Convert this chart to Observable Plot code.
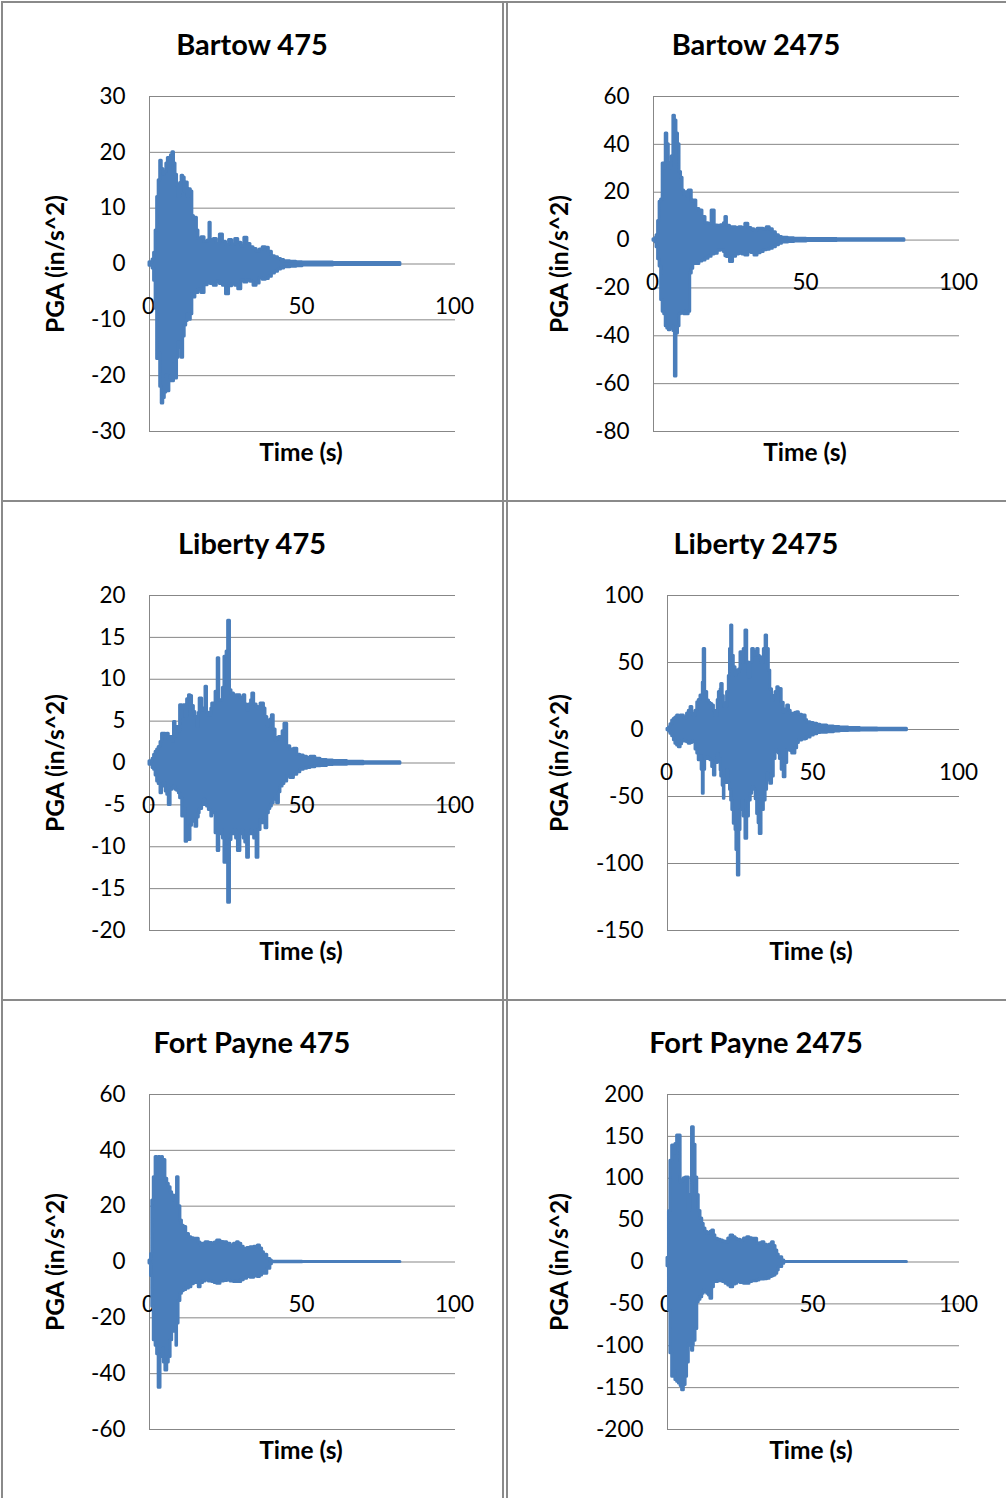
<!DOCTYPE html>
<html>
<head>
<meta charset="utf-8">
<script src="https://cdn.jsdelivr.net/npm/d3@7"></script>
<script src="https://cdn.jsdelivr.net/npm/@observablehq/plot@0.6"></script>
<style>
  html, body { margin: 0; padding: 0; background: #fff; }
  #root { position: relative; width: 1006px; height: 1498px; overflow: hidden; background: #fff; font-family: Lato, "Open Sans", sans-serif; color: #000; }
  .lbl { position: absolute; transform: translate(-50%, -50%); white-space: nowrap; line-height: 1; }
  .title { font-weight: bold; font-size: 29px; }
  .axl { font-weight: bold; font-size: 24.5px; }
  .ylab { transform: translate(-50%, -50%) rotate(-90deg); }
  .ln { position: absolute; background: #8a8a8a; }
  .panel { position: absolute; }
</style>
</head>
<body>
<div id="root"></div>
<script>
// ---------- Data ----------
const xTicks = [0, 50, 100];

// Bartow 475 : time (s), upper and lower envelope of PGA trace (in/s^2)
const bartow475T  = [0, 1, 1.5, 2, 2.5, 3, 3.5, 4, 4.5, 5, 5.5, 6, 6.5, 7, 7.5, 8, 8.5, 9, 9.5, 10, 10.5, 11, 11.5, 12, 12.5, 13, 13.5, 14, 14.5, 15, 15.5, 16, 17, 18, 19, 19.6, 20, 21, 22, 23, 24, 25, 26, 27, 28, 29, 30, 31, 32, 33, 34, 35, 36, 37, 38, 39, 40, 41, 42, 43, 44, 46, 48, 50, 60, 70, 82];
const bartow475Hi = [0.3, 0.8, 2, 6, 12, 15, 18.5, 17, 16, 16.5, 18, 19, 17, 19.5, 20, 18, 16, 14, 12, 14.5, 15.8, 15.5, 13, 14.6, 12, 13.4, 13, 8.6, 8, 8.3, 6, 4.5, 4.8, 4, 4.2, 7.4, 4.3, 4.5, 3.6, 5.3, 4, 3.4, 4.3, 3.5, 4.5, 3.8, 3.2, 4.7, 3.6, 3, 2.7, 2.2, 2.6, 3, 2.9, 2.2, 1.4, 1.2, 0.9, 0.7, 0.5, 0.4, 0.3, 0.25, 0.2, 0.2, 0.2];
const bartow475Lo = [-0.3, -0.8, -3, -8, -17, -16, -22, -25, -24, -23, -20, -22.8, -21, -20, -21, -18, -20.5, -16.8, -14, -15, -16.8, -13, -11, -10.2, -9, -10, -9, -5.4, -6, -5, -5.2, -4.6, -5.2, -3.8, -3.4, -3.5, -3.6, -3.9, -3.2, -3.6, -3.9, -5.4, -4, -3.6, -3.9, -4.5, -3, -3.3, -3, -3.2, -3.9, -3.5, -2.5, -2.8, -2.7, -2.3, -1.7, -1.4, -1, -0.8, -0.6, -0.5, -0.4, -0.25, -0.2, -0.2, -0.2];
const bartow475YTicks = [-30, -20, -10, 0, 10, 20, 30];

// Bartow 2475
const bartow2475T  = [0, 0.7, 1, 1.5, 2, 2.5, 3, 3.5, 4, 4.5, 5, 5.5, 6, 6.5, 7, 7.5, 8, 8.5, 9, 9.5, 10, 10.5, 11, 11.5, 12, 12.5, 13, 14, 15, 16, 17, 18, 19, 20, 21, 22, 23, 23.5, 24, 25, 26, 27, 28, 29, 30, 31, 32, 33, 34, 35, 36, 37, 38, 39, 40, 41, 42, 44, 46, 50, 60, 70, 82];
const bartow2475Hi = [0.3, 1, 2, 8, 16, 17, 32, 30, 44.5, 40, 32, 30, 35, 52, 50, 44.5, 40, 28.4, 26, 20.7, 19, 20, 18, 20.7, 20.7, 16, 16.5, 13, 12.4, 9.6, 7, 6.8, 12.4, 6.1, 6, 6.2, 7, 9.6, 6, 5.4, 5.4, 5, 5.4, 5, 6.8, 5, 4.5, 4, 4.7, 4.7, 4.5, 5.4, 4.5, 3.3, 2, 1.3, 1, 0.8, 0.6, 0.4, 0.3, 0.3, 0.3];
const bartow2475Lo = [-0.3, -1, -3, -8, -11, -25, -30, -31, -36, -37, -37.7, -37, -36, -38, -57, -39, -36, -31, -30.7, -30.7, -31, -30, -31, -30, -14, -12, -10, -10, -9, -8.5, -7.8, -7, -6, -5.7, -4.5, -4.3, -5, -6.8, -7.1, -9.2, -7, -6, -5.7, -6, -6.4, -5, -5.4, -6.4, -5.5, -5, -4.3, -4, -3.6, -3, -2.2, -1.5, -1, -0.8, -0.6, -0.4, -0.3, -0.3, -0.3];
const bartow2475YTicks = [-80, -60, -40, -20, 0, 20, 40, 60];

// Liberty 475
const liberty475T  = [0, 1, 1.5, 2, 2.5, 3, 3.6, 4.1, 4.7, 5.3, 5.8, 6.3, 6.9, 7.5, 8, 8.5, 9, 9.6, 10, 10.7, 11.2, 11.8, 12.3, 12.9, 13.4, 13.9, 14.5, 15, 15.6, 16.1, 16.4, 17.2, 17.8, 18.3, 18.8, 19.4, 20.2, 20.5, 21.6, 22.3, 22.8, 23.4, 24, 24.5, 25.2, 25.7, 26.3, 26.8, 27.6, 28.3, 28.9, 29.7, 30.3, 30.8, 31.3, 31.9, 32.5, 33.2, 33.6, 34.2, 35, 35.6, 36.3, 37, 37.4, 37.9, 38.5, 39, 39.5, 40, 40.6, 41.2, 41.7, 42.3, 42.8, 43.5, 44.1, 45, 46, 47.2, 48.3, 49.3, 50.4, 51.5, 52.6, 54.2, 55.9, 58, 60, 64.6, 70, 82];
const liberty475Hi = [0.2, 0.5, 1, 1.35, 1.6, 1.9, 2.5, 3.5, 3.5, 3.4, 3.5, 2.8, 3.1, 2.6, 4.9, 3.2, 4.3, 3.8, 6.9, 6.5, 6.9, 5.5, 7.6, 8.1, 8, 6.8, 6.1, 5.5, 4.3, 6, 7.7, 6.3, 6.5, 9.1, 6, 5.7, 6.5, 7.1, 8.5, 12.5, 7.5, 7.5, 9, 12.7, 13.3, 17, 8.7, 8.3, 8, 8.1, 8.1, 7.8, 7.5, 8.1, 7, 6.3, 7, 7.5, 8.3, 7, 6.7, 6.5, 7.1, 7.1, 6.5, 5.5, 4.3, 5, 5.2, 5.7, 4, 2.7, 3, 3.1, 3, 3.8, 4.7, 2, 1.6, 1.7, 1, 0.9, 0.75, 0.6, 0.75, 0.5, 0.35, 0.3, 0.25, 0.15, 0.1, 0.1];
const liberty475Lo = [-0.2, -0.6, -0.8, -1.5, -2.2, -2.5, -3.6, -2.8, -2.4, -3.4, -3.8, -5, -3.2, -3, -2.8, -3.2, -3.3, -3.6, -4.2, -6.4, -5.5, -9.4, -8, -9.2, -7.5, -6.8, -7, -7.6, -6.5, -6, -5.5, -5, -4.4, -5, -5.2, -5.6, -6.4, -6, -8.4, -10.5, -8.5, -8, -9, -11.9, -10, -16.7, -9.2, -8.5, -8, -9, -10.5, -8.5, -8, -9, -9.5, -11.3, -8.5, -8, -8.5, -9, -11.3, -8, -6.8, -7.2, -7, -7.8, -6, -5.5, -5.2, -4.8, -4.4, -4, -4.8, -3.5, -2.8, -2.5, -2.2, -1.6, -1.8, -1.4, -1.1, -0.8, -0.7, -0.6, -0.5, -0.4, -0.35, -0.25, -0.2, -0.15, -0.1, -0.1];
const liberty475YTicks = [-20, -15, -10, -5, 0, 5, 10, 15, 20];

// Liberty 2475
const liberty2475T  = [0, 0.5, 1, 1.6, 2.2, 2.7, 3.3, 3.9, 4.5, 5, 5.6, 6.2, 6.7, 7.3, 7.9, 8.5, 9, 9.6, 10.2, 10.7, 11.3, 11.7, 12.1, 12.4, 12.9, 13.6, 14.2, 14.7, 15.3, 15.9, 16.4, 17.2, 17.6, 18.2, 18.4, 18.9, 19.3, 19.5, 20.4, 21, 21.4, 21.8, 22.2, 22.7, 23.3, 23.6, 24.1, 24.6, 25, 25.6, 26.1, 26.7, 27.3, 27.9, 28.5, 29, 29.6, 30.2, 30.7, 31.2, 31.6, 32.2, 33, 33.6, 34.1, 34.7, 35.2, 35.8, 36.4, 37, 37.6, 38.1, 38.5, 39.1, 39.8, 40.4, 41, 41.6, 42.2, 42.7, 43.3, 43.8, 44.4, 45, 46.1, 47.3, 47.8, 49, 50.1, 51.3, 52.4, 54.7, 57, 59, 62, 66, 72, 82];
const liberty2475Hi = [0.5, 1.7, 4, 6.7, 8, 9, 10.4, 10, 10.4, 10.4, 9, 8, 12, 14, 16.7, 12, 10.4, 14, 20.4, 22, 25.4, 24, 35, 60, 28, 21.6, 20, 19, 17.9, 14, 10.4, 22, 27.9, 30, 34, 25, 20, 16.7, 27.9, 40, 60, 77.6, 55, 46.5, 40, 44, 42.8, 45, 57.7, 50, 60, 73.9, 50, 39, 50, 60, 55, 58, 60, 55, 54, 50, 60, 70.1, 60, 44, 30, 21.6, 25, 28, 31.6, 30.3, 30.3, 20, 12.9, 15, 17.9, 14, 12, 11.7, 12, 12.5, 12.9, 11, 10.4, 7, 5.5, 4.8, 4.2, 3.5, 3, 2.2, 1.8, 1.5, 1.2, 0.8, 0.6, 0.5];
const liberty2475Lo = [-0.5, -1.5, -3.2, -5, -8, -10.7, -12, -13.2, -11, -9, -8.2, -9, -9.5, -10.7, -10, -9, -9.5, -15, -18, -23, -20, -30, -48, -30, -22, -20.6, -22, -23, -28, -34.3, -25, -18.2, -22, -30.6, -35, -42, -51.7, -40, -30.6, -40, -45, -53, -60, -70.4, -75, -90, -109, -75, -60, -53, -65, -81.6, -65, -53, -48, -43, -45, -52, -63, -70, -77.9, -60, -53, -45, -33, -38, -40.5, -35, -22, -15.7, -17, -18, -22, -30, -35.6, -25, -15.7, -15.7, -16, -18, -18, -14, -10, -8.2, -7.5, -7, -6, -4.5, -3.5, -2.7, -2.4, -2, -1.5, -1.2, -1, -0.7, -0.5, -0.4];
const liberty2475YTicks = [-150, -100, -50, 0, 50, 100];

// Fort Payne 475
const fortPayne475T  = [0, 0.5, 0.9, 1.4, 2, 2.5, 3, 3.6, 4.1, 4.4, 4.7, 5.2, 5.8, 6.3, 6.9, 7.4, 8, 8.8, 9, 9.5, 10.1, 10.6, 11.2, 12, 12.9, 13.7, 14.5, 15, 16.1, 16.7, 17.5, 18.3, 19.4, 20.5, 21.3, 22.1, 23.2, 24.3, 25.4, 26.5, 27.6, 28.6, 29.2, 30, 30.8, 31.9, 33, 34.2, 35.4, 36.1, 36.8, 37.4, 38.5, 39.5, 40, 50, 60, 70, 82];
const fortPayne475Hi = [0.5, 2.9, 22, 30.4, 37.6, 33, 37.6, 29.8, 37.6, 32, 36.5, 29.8, 28, 26.8, 25, 23.8, 22, 24, 30.4, 20, 14.9, 13, 12.5, 10, 8.9, 8.5, 8.3, 8.3, 7, 5.9, 6.5, 7.1, 6.8, 6.5, 7, 7.7, 7.2, 7.1, 6.5, 5.9, 6.5, 7.1, 6.5, 5.5, 4.7, 5, 5.3, 5.5, 5.9, 4.8, 3.5, 2.6, 1.1, 0.5, 0.1, 0, 0, 0, 0];
const fortPayne475Lo = [-0.5, -5, -16, -28, -30, -33, -45, -34, -34, -31, -36, -38.9, -36, -34, -28, -23.3, -25, -30, -22, -14, -11.4, -10.5, -10, -9.5, -9, -8, -7.2, -7.5, -9, -7.5, -7, -6.6, -7, -7.2, -7.5, -7.8, -7, -6.8, -6.6, -7, -7.2, -7, -7.2, -6.5, -6, -5.4, -5.6, -5.2, -5.4, -4.8, -4.2, -4.2, -2.4, -0.8, -0.1, 0, 0, 0, 0];
const fortPayne475YTicks = [-60, -40, -20, 0, 20, 40, 60];

// Fort Payne 2475
const fortPayne2475T  = [0, 0.5, 1, 1.6, 2.2, 2.7, 3.3, 3.9, 4.5, 5, 5.6, 6.2, 6.7, 7.3, 7.8, 8.4, 8.8, 9, 9.6, 10.2, 10.7, 11.3, 11.9, 12.4, 13, 13.6, 14.2, 14.7, 15.3, 15.9, 16.4, 17.3, 18.2, 19, 19.9, 20.8, 21.6, 22.5, 23.3, 23.9, 25, 26.2, 27.3, 28.1, 29, 30.7, 31.5, 32.4, 33.2, 34.1, 35, 35.8, 36.4, 37, 37.6, 38.1, 39.3, 40, 50, 60, 70, 82];
const fortPayne2475Hi = [5, 61, 121, 139, 130, 141, 151, 151, 95, 97, 100, 101, 101, 61, 80, 161, 161, 140, 101, 80, 61, 52, 45.6, 40, 36, 33.6, 35, 36, 37.6, 32, 27.7, 26.5, 25.7, 24.5, 23.7, 28, 31.6, 29.5, 27.7, 26.5, 25.7, 28, 29.7, 28.5, 27.7, 21.7, 22.5, 23.7, 20.5, 17.7, 21, 23.7, 19, 13.7, 9, 5.8, 1.8, 0, 0, 0, 0, 0];
const fortPayne2475Lo = [-5, -58, -109, -137, -130, -141, -143, -145, -148, -153, -147, -137, -120, -98, -100, -106, -100, -94, -80, -48, -45, -42, -38, -34, -36, -38, -40, -44, -30, -24, -24, -23, -22, -24, -26, -28, -30, -27, -26, -24, -25, -26, -26, -24, -23, -22, -21, -21, -20.5, -20, -18, -17, -16, -14, -10, -6, -2, 0, 0, 0, 0, 0];
const fortPayne2475YTicks = [-200, -150, -100, -50, 0, 50, 100, 150, 200];

// ---------- Layout ----------
const LINE = "#4a7ebb";
const GRID = "#878787";
const root = document.getElementById("root");

const panels = [
  {title: "Bartow 475", t: bartow475T, hi: bartow475Hi, lo: bartow475Lo, yTicks: bartow475YTicks, col: 0, row: 0, ml: 149, xl: 301},
  {title: "Bartow 2475", t: bartow2475T, hi: bartow2475Hi, lo: bartow2475Lo, yTicks: bartow2475YTicks, col: 1, row: 0, ml: 148, xl: 805},
  {title: "Liberty 475", t: liberty475T, hi: liberty475Hi, lo: liberty475Lo, yTicks: liberty475YTicks, col: 0, row: 1, ml: 149, xl: 301},
  {title: "Liberty 2475", t: liberty2475T, hi: liberty2475Hi, lo: liberty2475Lo, yTicks: liberty2475YTicks, col: 1, row: 1, ml: 162, xl: 811},
  {title: "Fort Payne 475", t: fortPayne475T, hi: fortPayne475Hi, lo: fortPayne475Lo, yTicks: fortPayne475YTicks, col: 0, row: 2, ml: 149, xl: 301},
  {title: "Fort Payne 2475", t: fortPayne2475T, hi: fortPayne2475Hi, lo: fortPayne2475Lo, yTicks: fortPayne2475YTicks, col: 1, row: 2, ml: 162, xl: 811}
];

const ROW_TOP = [0, 499, 998];
const COL_LEFT = [0, 505];
const COL_W = [505, 501];
const COL_MR = [50, 47];
const TITLE_X = [252, 756];
const YLAB_X = [55, 559];

function addLabel(text, cls, x, y) {
  const d = document.createElement("div");
  d.className = "lbl " + cls;
  d.textContent = text;
  d.style.left = x + "px";
  d.style.top = y + "px";
  root.appendChild(d);
}

for (const p of panels) {
  const table = p.t.map((t, i) => ({t, hi: p.hi[i], lo: p.lo[i]}));
  const yDomain = d3.extent(p.yTicks);
  const chart = Plot.plot({
    width: COL_W[p.col],
    height: 500,
    marginLeft: p.ml,
    marginRight: COL_MR[p.col],
    marginTop: 96,
    marginBottom: 69,
    x: {domain: d3.extent(xTicks), axis: null},
    y: {domain: yDomain, axis: null},
    style: {fontFamily: "Lato, 'Open Sans', sans-serif", fontSize: "22px", color: "#000", background: "transparent", overflow: "visible"},
    marks: [
      Plot.ruleY(p.yTicks, {stroke: GRID, strokeWidth: 1}),
      Plot.ruleX(xTicks.slice(0, 1), {stroke: GRID, strokeWidth: 1}),
      Plot.axisY(p.yTicks, {tickSize: 0, tickPadding: 24, tickFormat: d => String(d), label: null, fontSize: 22.5, fill: "#000"}),
      Plot.text(xTicks, {x: d => d, y: () => 0, dy: 43, dx: -1, text: d => String(d), fontSize: 22.5, fill: "#000"}),
      Plot.areaY(table, {x: "t", y1: "lo", y2: "hi", curve: "step-after", fill: LINE, stroke: LINE, strokeWidth: 3, strokeLinejoin: "round"})
    ]
  });
  const wrap = document.createElement("div");
  wrap.className = "panel";
  wrap.style.left = COL_LEFT[p.col] + "px";
  wrap.style.top = ROW_TOP[p.row] + "px";
  wrap.appendChild(chart);
  root.appendChild(wrap);

  const rt = ROW_TOP[p.row];
  addLabel(p.title, "title", TITLE_X[p.col], rt + 43);
  addLabel("PGA (in/s^2)", "axl ylab", YLAB_X[p.col], rt + 264);
  addLabel("Time (s)", "axl", p.xl, rt + 452);
}

// panel borders
function addLine(x, y, w, h) {
  const d = document.createElement("div");
  d.className = "ln";
  d.style.left = x + "px"; d.style.top = y + "px";
  d.style.width = w + "px"; d.style.height = h + "px";
  root.appendChild(d);
}
addLine(1, 1, 1005, 2);        // top
addLine(1, 500, 1005, 2);      // row divider 1
addLine(1, 999, 1005, 2);      // row divider 2
addLine(1, 1, 2, 1497);        // left edge
addLine(502, 1, 2, 1497);      // left column right edge
addLine(506, 1, 2, 1497);      // right column left edge
</script>
</body>
</html>
